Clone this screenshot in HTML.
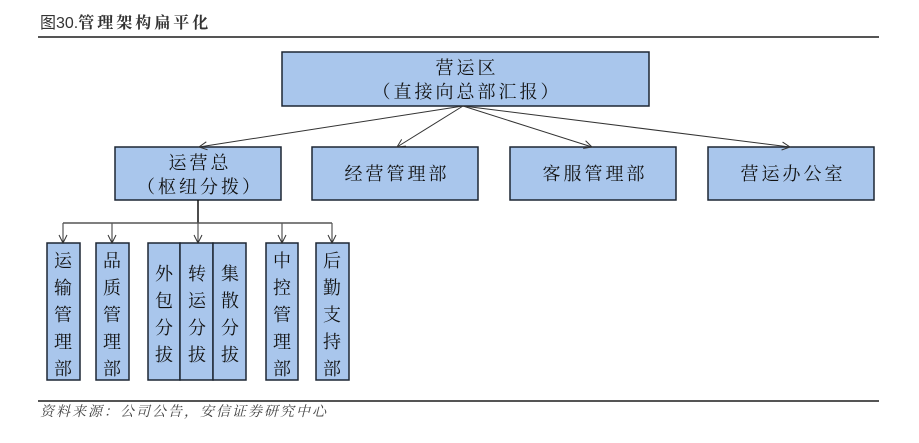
<!DOCTYPE html>
<html><head><meta charset="utf-8"><style>
body{margin:0;background:#fff;}
svg text{font-family:"Liberation Serif","Noto Serif CJK SC",serif;fill:#111;}
</style></head><body>
<svg width="919" height="438" viewBox="0 0 919 438" xmlns="http://www.w3.org/2000/svg">
<defs><marker id="a" markerWidth="10" markerHeight="10" refX="9" refY="5" orient="auto" markerUnits="userSpaceOnUse"><path d="M1,1 L9,5 L1,9" fill="none" stroke="#333" stroke-width="1"/></marker></defs>
<text x="40" y="28" style="font-family:'Liberation Sans','Noto Sans CJK SC',sans-serif;font-size:16px;fill:#333">图30.<tspan style="font-family:'Noto Serif CJK SC',serif;font-weight:bold;letter-spacing:3px">管理架构扁平化</tspan></text>
<line x1="38" y1="37" x2="879" y2="37" stroke="#555" stroke-width="2"/>
<g fill="#a9c6ec" stroke="#1d2633" stroke-width="1.5">
<rect x="282" y="52" width="367" height="54"/>
<rect x="115" y="147" width="166" height="53"/>
<rect x="312" y="147" width="166" height="53"/>
<rect x="510" y="147" width="166" height="53"/>
<rect x="708" y="147" width="166" height="53"/>
<rect x="47" y="243" width="33" height="137"/>
<rect x="96" y="243" width="33" height="137"/>
<rect x="148" y="243" width="32" height="137"/>
<rect x="180" y="243" width="33" height="137"/>
<rect x="213" y="243" width="33" height="137"/>
<rect x="266" y="243" width="32" height="137"/>
<rect x="316" y="243" width="33" height="137"/>
</g>
<g stroke="#333" stroke-width="1" fill="none" marker-end="url(#a)">
<line x1="463" y1="106" x2="199" y2="147"/>
<line x1="463" y1="106" x2="397" y2="147"/>
<line x1="463" y1="106" x2="592" y2="147"/>
<line x1="463" y1="106" x2="790" y2="147"/>
<line x1="63" y1="223" x2="63" y2="243"/>
<line x1="112" y1="223" x2="112" y2="243"/>
<line x1="198" y1="223" x2="198" y2="243"/>
<line x1="282" y1="223" x2="282" y2="243"/>
<line x1="332" y1="223" x2="332" y2="243"/>
</g>
<line x1="198" y1="200" x2="198" y2="223" stroke="#111" stroke-width="1.5"/>
<line x1="63" y1="223" x2="332" y2="223" stroke="#555" stroke-width="1.5"/>
<g font-size="18" text-anchor="middle" style="letter-spacing:3px">
<text x="467" y="74">营运区</text>
<text x="467" y="98">（直接向总部汇报）</text>
<text x="200" y="169">运营总</text>
<text x="200" y="193">（枢纽分拨）</text>
<text x="397" y="180">经营管理部</text>
<text x="595" y="180">客服管理部</text>
<text x="793" y="180">营运办公室</text>
</g>
<g font-size="18" text-anchor="middle">
<text x="63" y="267">运</text><text x="63" y="294">输</text><text x="63" y="321">管</text><text x="63" y="348">理</text><text x="63" y="375">部</text>
<text x="112" y="267">品</text><text x="112" y="294">质</text><text x="112" y="321">管</text><text x="112" y="348">理</text><text x="112" y="375">部</text>
<text x="164" y="280">外</text><text x="164" y="307">包</text><text x="164" y="334">分</text><text x="164" y="361">拔</text>
<text x="197" y="280">转</text><text x="197" y="307">运</text><text x="197" y="334">分</text><text x="197" y="361">拔</text>
<text x="230" y="280">集</text><text x="230" y="307">散</text><text x="230" y="334">分</text><text x="230" y="361">拔</text>
<text x="282" y="267">中</text><text x="282" y="294">控</text><text x="282" y="321">管</text><text x="282" y="348">理</text><text x="282" y="375">部</text>
<text x="332" y="267">后</text><text x="332" y="294">勤</text><text x="332" y="321">支</text><text x="332" y="348">持</text><text x="332" y="375">部</text>
</g>
<line x1="38" y1="401" x2="879" y2="401" stroke="#555" stroke-width="2"/>
<text x="40" y="416" style="font-size:14px;font-style:italic;fill:#444;letter-spacing:2px">资料来源：公司公告，安信证券研究中心</text>
</svg>
</body></html>
